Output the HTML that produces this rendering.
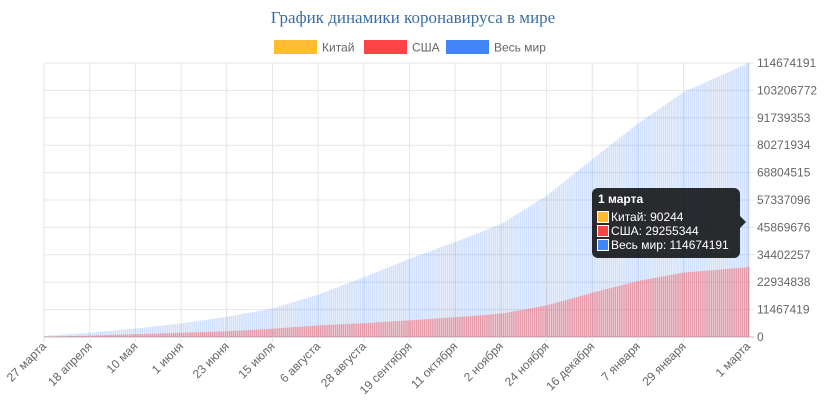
<!DOCTYPE html>
<html><head><meta charset="utf-8"><style>
body{margin:0;background:#fff;width:827px;height:412px;overflow:hidden}
svg text{font-family:"Liberation Sans",sans-serif}
</style></head><body>
<svg id="s" width="827" height="412" xmlns="http://www.w3.org/2000/svg"></svg>
<script>
const s=document.getElementById('s');let h='';
const L=44,R=748,T=63,B=337,N=340,MAX=114674191;
h+='<text x="413" y="23" text-anchor="middle" style="font-family:\'Liberation Serif\',serif" font-size="17" fill="#3a6ea5">График динамики коронавируса в мире</text>';
[[274,'#ffbb33','Китай'],[364,'#ff4447','США'],[446,'#4285f4','Весь мир']].forEach(l=>{
h+=`<rect x="${l[0]}" y="40" width="43" height="14" fill="${l[1]}"/><text x="${l[0]+48}" y="51.5" font-size="12" fill="#666">${l[2]}</text>`;});
for(let k=0;k<=10;k++){const y=B-k*(B-T)/10;
h+=`<line x1="${L}" x2="${R+6}" y1="${y}" y2="${y}" stroke="${k==0?'#bbb':'#e6e6e6'}"/>`;
h+=`<text x="757" y="${y+4}" font-size="12" fill="#666">${Math.round(k*MAX/10)}</text>`;}
const labs=['27 марта','18 апреля','10 мая','1 июня','23 июня','15 июля','6 августа','28 августа','19 сентября','11 октября','2 ноября','24 ноября','16 декабря','7 января','29 января'];
const ticks=labs.map((t,i)=>[i*22,t]);ticks.push([339,'1 марта']);
const X=i=>L+i*(R-L)/339;
ticks.forEach(t=>{const x=X(t[0]);h+=`<line x1="${x}" x2="${x}" y1="${T}" y2="${B+5}" stroke="#e6e6e6"/>`;
h+=`<text transform="translate(${x+3},${B+10}) rotate(-45)" text-anchor="end" font-size="12" fill="#666">${t[1]}</text>`;});
h+=`<line x1="${R}" x2="${R}" y1="${T}" y2="${B}" stroke="#ddd"/>`;
const W=[0.5,1.8,3.6,5.7,8.5,12.0,17.8,25.1,32.8,39.8,47.4,59.3,74.6,89.5,102.6],U=[0.1,0.6,1.2,1.8,2.4,3.5,4.9,5.8,7.0,8.3,9.8,13.3,18.6,23.5,27.0];
W.push(114.674191);U.push(29.255344);
const ki=ticks.map(t=>t[0]);
function interp(a,i){for(let j=0;j<ki.length-1;j++){if(i<=ki[j+1]){const f=(i-ki[j])/(ki[j+1]-ki[j]);return a[j]+f*(a[j+1]-a[j]);}}return a[a.length-1];}
const sc=(B-T)/(MAX/1e6);
for(let i=0;i<N;i++){const x=X(i)-0.2;let w=interp(W,i)*sc,u=interp(U,i)*sc;
h+=`<rect x="${x}" y="${B-w}" width="1.6" height="${w}" fill="rgba(66,133,244,0.25)"/>`;
h+=`<rect x="${x}" y="${B-u}" width="1.6" height="${u}" fill="rgba(255,68,71,0.45)"/>`;}
h+=`<rect x="592" y="188" width="148" height="70" rx="6" fill="rgba(0,0,0,0.82)"/><path d="M740 216 L746 222 L740 228Z" fill="rgba(0,0,0,0.82)"/>`;
h+=`<text x="598" y="203" font-size="12" font-weight="bold" fill="#fff">1 марта</text>`;
[['#ffbb33','Китай: 90244'],['#ff4447','США: 29255344'],['#4285f4','Весь мир: 114674191']].forEach((r,k)=>{const y=211+k*14;
h+=`<rect x="597.5" y="${y+0.5}" width="11" height="11" fill="${r[0]}" stroke="#fff" stroke-width="1"/><text x="611" y="${y+10}" font-size="12" fill="#fff">${r[1]}</text>`;});
s.innerHTML=h;
</script></body></html>
